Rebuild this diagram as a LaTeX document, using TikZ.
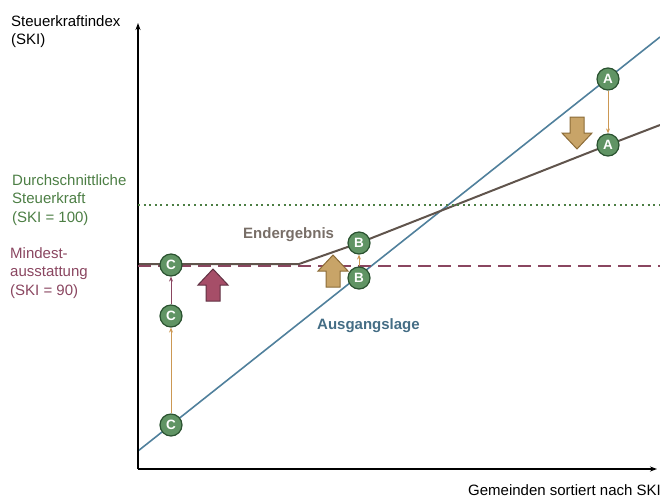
\documentclass[tikz,border=0pt]{standalone}
\usepackage{fontspec}
\setmainfont{Liberation Sans}
\usetikzlibrary{arrows.meta,backgrounds}

\definecolor{gemgreen}{RGB}{96,148,100}
\definecolor{gemdark}{RGB}{42,82,48}
\definecolor{startblue}{RGB}{80,128,156}
\definecolor{endbrown}{RGB}{96,84,76}
\definecolor{avggreen}{RGB}{76,126,68}
\definecolor{minred}{RGB}{138,70,96}
\definecolor{liftred}{RGB}{166,78,104}
\definecolor{lifttan}{RGB}{200,164,104}
\definecolor{tanedge}{RGB}{140,108,56}
\definecolor{moveorange}{RGB}{204,152,84}

\tikzset{
  pics/lift/.style={code={
    \draw[#1] (-7,16) -- (-7,0) -- (-15,0) -- (0,-16) -- (15,0)
      -- (7,0) -- (7,16) -- cycle;}},
}

\begin{document}
\begin{tikzpicture}[
    x=1pt, y=-1pt,
    font=\fontsize{15}{18.5}\selectfont,
    firm/.style={circle, draw=gemdark, fill=gemgreen, line width=1.2pt,
                 minimum size=22pt, inner sep=0pt, text=white,
                 font=\fontsize{13.5}{13.5}\selectfont\bfseries},
    move/.style={-{Stealth[length=5pt,width=4pt]}, draw=moveorange,
                 line width=0.9pt},
    axis/.style={-{Stealth[length=7pt,width=5pt]}, line width=1.5pt},
    lbl/.style={anchor=north west, inner sep=0pt, align=left},
    redlift/.style={fill=liftred, draw=minred!70!black, line width=1pt},
    tanlift/.style={fill=lifttan, draw=tanedge, line width=1pt}
  ]
  \useasboundingbox (0,0) rectangle (660,499);

  % axes
  \coordinate (origin) at (138,469);
  \coordinate (ytop) at (138,23);
  \coordinate (xend) at (657,469);
  \draw[axis] (origin) -- (ytop);
  \draw[axis] (origin) -- (xend);
  \node[lbl] (ylabel) at (11,15) {Steuerkraftindex\\(SKI)};
  \node[anchor=base east, inner sep=0pt] (xlabel) at (661,495)
    {Gemeinden sortiert nach SKI};

  % reference levels
  \coordinate (avgL) at (138,205);
  \coordinate (avgR) at (660,205);
  \coordinate (minL) at (138,266);
  \coordinate (minR) at (660,266);
  \draw[avggreen, line width=2pt, dash pattern=on 2pt off 3.6pt] (avgL) -- (avgR);
  \draw[minred, line width=2pt, dash pattern=on 13pt off 7pt] (minL) -- (minR);
  \node[lbl, text=avggreen] (avgtext) at (12,174)
    {Durchschnittliche\\Steuerkraft\\(SKI = 100)};
  \node[lbl, text=minred] (mintext) at (10,247)
    {Mindest-\\ausstattung\\(SKI = 90)};

  % municipalities
  \node[firm] (Atop) at (608,79)  {A};
  \node[firm] (Abot) at (608,145) {A};
  \node[firm] (Btop) at (359,243) {B};
  \node[firm] (Bbot) at (359,278) {B};
  \node[firm] (Ctop) at (171,265) {C};
  \node[firm] (Cmid) at (171,316) {C};
  \node[firm] (Cbot) at (171,425) {C};

  % initial position and final result, behind the circles
  \coordinate (startL) at (138,451);
  \coordinate (startR) at (660,37);
  \coordinate (endL) at (138,264);
  \coordinate (kink) at (299,264);
  \coordinate (endR) at (660,125);
  \begin{scope}[on background layer]
    \draw[startblue, line width=1.6pt] (startL) -- (startR);
    \draw[endbrown, line width=2pt] (endL) -- (kink) -- (Btop.center)
      -- (Abot.center) -- (endR);
  \end{scope}
  \node[anchor=base west, inner sep=0pt, text=endbrown!85!white,
        font=\fontsize{15}{18}\selectfont\bfseries] (endtext) at (243,238)
    {Endergebnis};
  \node[anchor=base west, inner sep=0pt, text=startblue!85!black,
        font=\fontsize{15}{18}\selectfont\bfseries] (starttext) at (317,329)
    {Ausgangslage};

  % shifts
  \draw[move] (Atop) -- (Abot);
  \draw[move] (Bbot) -- (Btop);
  \draw[move] (Cbot) -- (Cmid);
  \draw[move, draw=minred] (Cmid) -- (Ctop);

  % block arrows
  \pic at (213,285) {lift=redlift};
  \pic at (333,271) {lift=tanlift};
  \pic[rotate=180] at (577,133) {lift=tanlift};

\end{tikzpicture}
\end{document}
